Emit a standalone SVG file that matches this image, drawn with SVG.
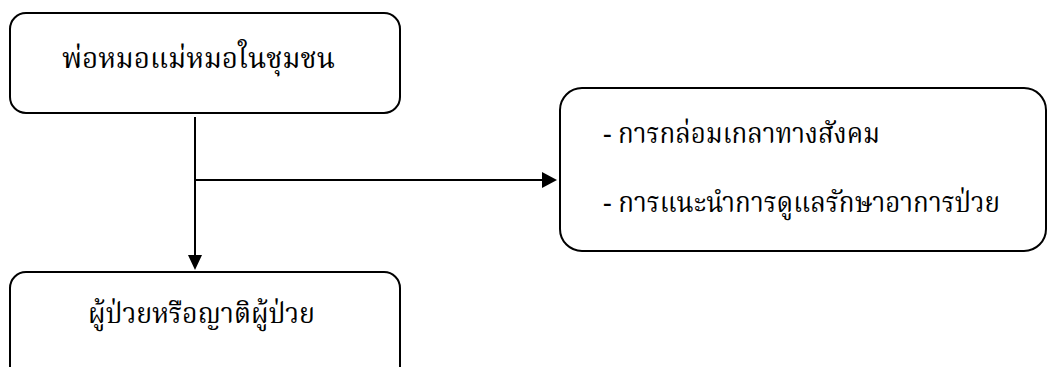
<svg xmlns="http://www.w3.org/2000/svg" width="1049" height="367" viewBox="0 0 1049 367">
<style>
.box{fill:#fff;stroke:#000;stroke-width:2}
.lbl{font-family:"Liberation Serif","Noto Serif Thai","Noto Sans Thai",serif;font-size:29px;fill:#000}
.conn{stroke:#000;stroke-width:2;fill:none}
</style>
<rect width="1049" height="367" fill="#fff"/>
<g id="n1">
<rect class="box" x="10" y="13" width="390" height="100" rx="16"/>
<text class="lbl" x="62" y="68" textLength="273" lengthAdjust="spacingAndGlyphs">พ่อหมอแม่หมอในชุมชน</text>
</g>
<g id="n2">
<rect class="box" x="560" y="88" width="486" height="163" rx="22"/>
<text class="lbl" x="603" y="143" textLength="277" lengthAdjust="spacingAndGlyphs">- การกล่อมเกลาทางสังคม</text>
<text class="lbl" x="603" y="212" textLength="397" lengthAdjust="spacingAndGlyphs">- การแนะนำการดูแลรักษาอาการป่วย</text>
</g>
<g id="n3">
<rect class="box" x="10" y="272" width="390" height="120" rx="16"/>
<text class="lbl" x="88" y="323" textLength="227" lengthAdjust="spacingAndGlyphs">ผู้ป่วยหรือญาติผู้ป่วย</text>
</g>
<g id="connectors">
<line class="conn" x1="195" y1="117" x2="195" y2="256"/>
<path d="M188,255 L202,255 L195,270 Z" fill="#000"/>
<line class="conn" x1="195" y1="180" x2="543" y2="180"/>
<path d="M542,172 L542,188 L557,180 Z" fill="#000"/>
</g>
</svg>
